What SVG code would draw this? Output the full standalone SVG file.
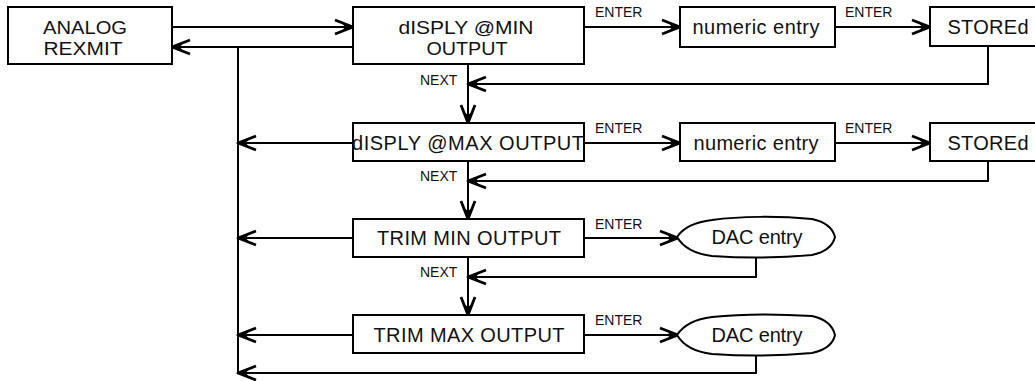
<svg xmlns="http://www.w3.org/2000/svg" width="1035" height="381" viewBox="0 0 1035 381">
<style>
.box{fill:#fff;stroke:#000;stroke-width:2}
.t{font-family:"Liberation Sans",Arial,sans-serif;font-size:20px;fill:#111;text-anchor:middle}
.t2{font-family:"Liberation Sans",Arial,sans-serif;font-size:18px;fill:#111;text-anchor:middle}
.lbl{font-family:"Liberation Sans",Arial,sans-serif;font-size:14px;fill:#111}
.c{fill:none;stroke:#000;stroke-width:2}
</style>
<defs>
<marker id="ah" markerUnits="userSpaceOnUse" markerWidth="20" markerHeight="16" refX="18" refY="7" orient="auto" overflow="visible">
<path d="M0,0 L18,7 L0,14" fill="none" stroke="#000" stroke-width="2.8" stroke-linejoin="round"/>
<path d="M7,3 L18,7 L7,11 L10,7 Z" fill="#000"/>
</marker>
</defs>
<rect width="1035" height="381" fill="#fff"/>
<g id="connectors">
<path class="c" d="M172,27 H353" marker-end="url(#ah)"/>
<path class="c" d="M353,47 H172" marker-end="url(#ah)"/>
<path class="c" d="M238,47 V373"/>
<path class="c" d="M584,27 H680" marker-end="url(#ah)"/>
<path class="c" d="M835,27 H930" marker-end="url(#ah)"/>
<path class="c" d="M988,46 V84 H468" marker-end="url(#ah)"/>
<path class="c" d="M468,64 V123" marker-end="url(#ah)"/>
<path class="c" d="M353,143 H238" marker-end="url(#ah)"/>
<path class="c" d="M584,143 H680" marker-end="url(#ah)"/>
<path class="c" d="M835,143 H930" marker-end="url(#ah)"/>
<path class="c" d="M988,161 V181 H468" marker-end="url(#ah)"/>
<path class="c" d="M468,161 V219" marker-end="url(#ah)"/>
<path class="c" d="M353,238 H238" marker-end="url(#ah)"/>
<path class="c" d="M584,238 H678" marker-end="url(#ah)"/>
<path class="c" d="M756,256 V277 H468" marker-end="url(#ah)"/>
<path class="c" d="M468,257 V315" marker-end="url(#ah)"/>
<path class="c" d="M353,335 H238" marker-end="url(#ah)"/>
<path class="c" d="M584,335 H678" marker-end="url(#ah)"/>
<path class="c" d="M756,354 V373 H238" marker-end="url(#ah)"/>
<text class="lbl" x="595" y="17">ENTER</text>
<text class="lbl" x="845" y="17">ENTER</text>
<text class="lbl" x="420" y="85">NEXT</text>
<text class="lbl" x="595" y="133">ENTER</text>
<text class="lbl" x="845" y="133">ENTER</text>
<text class="lbl" x="420" y="181">NEXT</text>
<text class="lbl" x="595" y="229">ENTER</text>
<text class="lbl" x="420" y="277">NEXT</text>
<text class="lbl" x="595" y="325">ENTER</text>
</g>
<g id="analog">
<rect class="box" x="8" y="7" width="164" height="57"/>
<text class="t2" x="85" y="34" textLength="84" lengthAdjust="spacingAndGlyphs">ANALOG</text>
<text class="t2" x="83" y="55" textLength="79" lengthAdjust="spacingAndGlyphs">REXMIT</text>
</g>
<g id="disp-min">
<rect class="box" x="353" y="7" width="231" height="57"/>
<text class="t2" x="466" y="34" textLength="135" lengthAdjust="spacingAndGlyphs">dISPLY @MIN</text>
<text class="t2" x="467" y="55" textLength="81" lengthAdjust="spacingAndGlyphs">OUTPUT</text>
</g>
<g id="num1">
<rect class="box" x="680" y="7" width="155" height="40"/>
<text class="t" x="756" y="34" textLength="127" lengthAdjust="spacing">numeric entry</text>
</g>
<g id="stored1">
<rect class="box" x="930" y="7" width="115" height="39"/>
<text class="t" x="988" y="34" textLength="81" lengthAdjust="spacing">STOREd</text>
</g>
<g id="disp-max">
<rect class="box" x="353" y="123" width="231" height="38"/>
<text class="t" x="468" y="150" textLength="232" lengthAdjust="spacing">dISPLY @MAX OUTPUT</text>
</g>
<g id="num2">
<rect class="box" x="680" y="123" width="155" height="38"/>
<text class="t" x="756" y="150" textLength="125" lengthAdjust="spacing">numeric entry</text>
</g>
<g id="stored2">
<rect class="box" x="930" y="123" width="115" height="38"/>
<text class="t" x="988" y="150" textLength="81" lengthAdjust="spacing">STOREd</text>
</g>
<g id="trim-min">
<rect class="box" x="353" y="219" width="231" height="38"/>
<text class="t" x="469" y="245" textLength="184" lengthAdjust="spacing">TRIM MIN OUTPUT</text>
</g>
<g id="dac1">
<path class="box" d="M677,237 C683,228 695,222 712,220 C740,216 780,216 812,219 C826,222 833,229 835,237 C833,245 826,252 812,255 C780,258 740,258 712,256 C695,254 683,247 677,237 Z"/>
<text class="t" x="757" y="244" textLength="91" lengthAdjust="spacing">DAC entry</text>
</g>
<g id="trim-max">
<rect class="box" x="353" y="315" width="231" height="38"/>
<text class="t" x="469" y="342" textLength="191" lengthAdjust="spacing">TRIM MAX OUTPUT</text>
</g>
<g id="dac2">
<path class="box" d="M677,335 C683,326 695,319 712,317 C740,314 780,314 812,316 C826,319 833,327 835,335 C833,344 826,350 812,353 C780,356 740,356 712,354 C695,352 683,345 677,335 Z"/>
<text class="t" x="757" y="342" textLength="91" lengthAdjust="spacing">DAC entry</text>
</g>
</svg>
